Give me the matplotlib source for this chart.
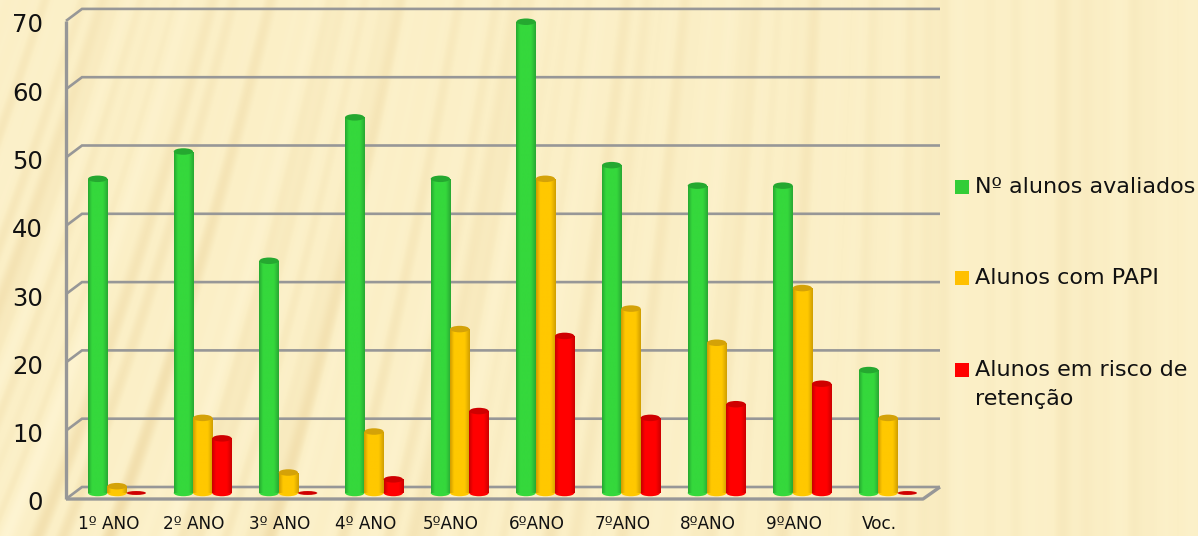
import numpy as np
import matplotlib
matplotlib.use("Agg")
import matplotlib.pyplot as plt
from matplotlib.patches import Ellipse, Rectangle
from matplotlib.transforms import ScaledTranslation
from matplotlib.colors import LinearSegmentedColormap

categories = ["1º ANO", "2º ANO", "3º ANO", "4º ANO", "5ºANO", "6ºANO", "7ºANO", "8ºANO", "9ºANO", "Voc."]
avaliados = [46, 50, 34, 55, 46, 69, 48, 45, 45, 18]
papi = [1, 11, 3, 9, 24, 46, 27, 22, 30, 11]
risco = [0, 8, 0, 2, 12, 23, 11, 13, 16, 0]
series_names = ["Nº alunos avaliados", "Alunos com PAPI", "Alunos em risco de\nretenção"]
yticks = [0, 10, 20, 30, 40, 50, 60, 70]

W, H, DPI = 1198, 536, 100
fig = plt.figure(figsize=(W / DPI, H / DPI), dpi=DPI)

# background texture: slanted paper streaks that straighten toward the right
yy, xx = np.mgrid[0:H, 0:W]
t = np.clip(xx / 950.0, 0, 1)
slant = 0.42 * (1 - t)
u = xx - slant * (H - yy)
tex = (0.30 * np.sin(u / 6.3) + 0.35 * np.sin(u / 11.7 + 1.0) + 0.22 * np.sin(u / 27.0 + 2.0)
       + 0.25 * np.sin(u / 3.7 + 0.5)) / 1.1
base = np.array([251, 239, 198], float) / 255
dark = np.array([236, 212, 156], float) / 255
light = np.array([255, 246, 214], float) / 255
amp = 0.28 + 0.45 * (yy / H) * (1 - t) + 0.12 * (1 - t)
v = tex * amp
img = base[None, None, :] + np.where(v[..., None] > 0, v[..., None] * (light - base), -v[..., None] * (dark - base))
bg = fig.add_axes([0, 0, 1, 1], zorder=0)
bg.imshow(np.clip(img, 0, 1), aspect="auto", extent=(0, W, H, 0), interpolation="bilinear")
bg.axis("off")

# main axes
PX_PER_UNIT = 6.83
PX_PER_CAT = 85.67
Y0 = 493.0
X0 = 117.0
left_px, right_px = 66.0, 940.0
top_px = Y0 - 70 * PX_PER_UNIT
ax = fig.add_axes([left_px / W, 1 - Y0 / H, (right_px - left_px) / W, (Y0 - top_px) / H], zorder=1)
ax.patch.set_alpha(0)
xmin, xmax = (left_px - X0) / PX_PER_CAT, (right_px - X0) / PX_PER_CAT
for s in ax.spines.values():
    s.set_visible(False)

def xu(px):
    return (px - X0) / PX_PER_CAT

dy = 6.0 / PX_PER_UNIT
GRID = "#979797"
lw = 1.9
xl, xb, xr, xf = xu(66), xu(82), xu(940), xu(923)
for tick in yticks:
    ax.plot([xl, xb, xr], [tick - dy, tick + dy, tick + dy], color=GRID, lw=lw, clip_on=False,
            solid_joinstyle="miter", solid_capstyle="butt", zorder=2)
ax.plot([xl, xl], [-dy, 70 - dy], color=GRID, lw=2.4, clip_on=False, zorder=2, solid_capstyle="butt")
ax.plot([xl, xf, xr], [-dy, -dy, dy], color=GRID, lw=2.4, clip_on=False, zorder=2, solid_capstyle="butt")

colors = [
    ("#25a830", "#35d83c", "#28a833", "#25a830"),
    ("#cf9c00", "#ffc800", "#d09e00", "#d4a208"),
    ("#c80000", "#ff0000", "#cc0000", "#cf0000"),
]
bw = 19.3 / PX_PER_CAT
eh = 6.5 / PX_PER_UNIT
offsets = [-bw, 0, bw]
all_series = [avaliados, papi, risco]
z = 5
for i in range(len(categories)):
    for k, vals in enumerate(all_series):
        val = vals[i]
        c0, c1, c2, ctop = colors[k]
        cmap = LinearSegmentedColormap.from_list("c", [(0, c0), (0.2, c1), (0.75, c1), (1, c2)])
        grad = np.linspace(0, 1, 64)[None, :]
        xc = i + offsets[k]
        ext = (xc - bw / 2, xc + bw / 2, -eh, val + eh)
        if val == 0:
            e = Ellipse((xc, 0), bw, eh * 0.6, fc=ctop, ec="none", zorder=z, clip_on=False)
            ax.add_patch(e)
            z += 1
            continue
        bar = ax.bar(xc, val, bw, color=c1, zorder=z, linewidth=0)[0]
        bar.set_clip_on(False)
        e_low = Ellipse((xc, 0), bw, eh, fc=c1, ec="none", zorder=z, clip_on=False)
        ax.add_patch(e_low)
        for p in (bar, e_low):
            im = ax.imshow(grad, cmap=cmap, extent=ext, aspect="auto", zorder=z + 0.5, interpolation="bilinear")
            im.set_clip_path(p)
        ax.add_patch(Ellipse((xc, val), bw, eh, fc=ctop, ec="none", zorder=z + 1, clip_on=False))
        z += 2

ax.set_xlim(xmin, xmax)
ax.set_ylim(0, 70)
ax.set_xticks(range(len(categories)))
ax.set_xticklabels(categories, fontsize=12.2, color="#111111", family="DejaVu Sans")
ax.set_yticks(yticks)
ax.set_yticklabels([str(t) for t in yticks], fontsize=17.5, color="#111111", family="DejaVu Sans")
ax.tick_params(axis="both", length=0)
ax.tick_params(axis="x", pad=15.5)
ax.tick_params(axis="y", pad=16.5)
yshift = ScaledTranslation(0, -8 / DPI, fig.dpi_scale_trans)
for lab in ax.get_yticklabels():
    lab.set_transform(lab.get_transform() + yshift)
xshift = ScaledTranslation(-8.5 / DPI, 0, fig.dpi_scale_trans)
for lab in ax.get_xticklabels():
    lab.set_transform(lab.get_transform() + xshift)

# legend
leg_y = [187, 278, 370]
leg_colors = ["#32cd37", "#ffc000", "#ff0000"]
for name, y, c in zip(series_names, leg_y, leg_colors):
    fig.add_artist(Rectangle((955 / W, 1 - (y + 7) / H), 14 / W, 14 / H, transform=fig.transFigure, fc=c, ec="none"))
    fig.text(975 / W, 1 - (y - 10) / H, name, fontsize=16, color="#111111", va="top", ha="left",
             family="DejaVu Sans", linespacing=1.55)

fig.savefig("out.png", dpi=DPI)
